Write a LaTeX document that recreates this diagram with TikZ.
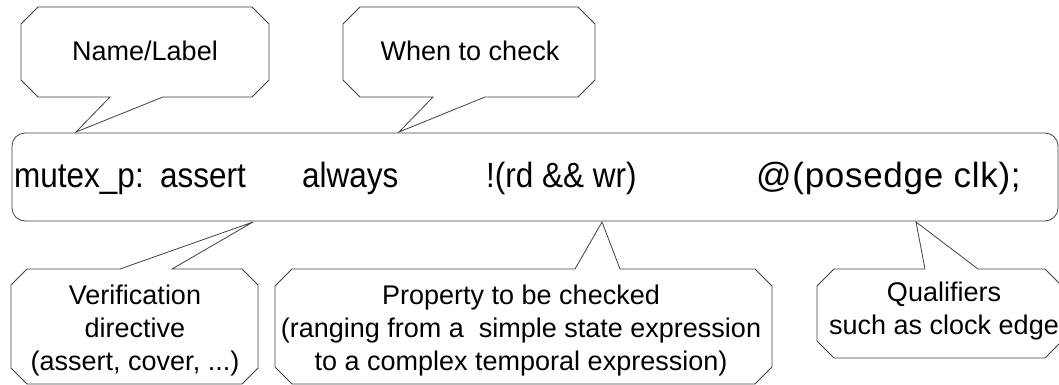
\documentclass[tikz,border=0pt]{standalone}
\usepackage{fontspec}
\setmainfont{Liberation Sans}
\newfontfamily\codefont[FakeStretch=0.9]{Liberation Sans}
\newfontfamily\widecodefont[LetterSpace=2]{Liberation Sans}
\usetikzlibrary{positioning}

\begin{document}
\begin{tikzpicture}[
    x=1pt,
    y=-1pt,
    callout/.style={
        draw=black!75,
        line width=0.8pt,
        line join=miter
    },
    calltext/.style={
        font=\fontsize{27}{33}\selectfont,
        align=center,
        inner sep=0pt
    },
    codetext/.style={
        font=\codefont\fontsize{35}{35}\selectfont,
        anchor=base west,
        inner sep=0pt
    }
]

% Frame
\useasboundingbox (0,0) rectangle (1059,385);

% Statement box
\draw[callout, rounded corners=13] (12,133) rectangle (1058,221);

% Statement text
\node[codetext] (label) at (14,187) {mutex\_p:};
\node[codetext] (directive) at (160,187) {assert};
\node[codetext] (when) at (302,187) {always};
\node[codetext] (prop) at (486,187) {!(rd \&\& wr)};
\node[codetext, font=\widecodefont\fontsize{35}{35}\selectfont] (clock) at (756,187) {@(posedge clk);};

% Upper callouts
\draw[callout] (38,7) -- (252,7) -- (269,24) -- (269,80) -- (252,97) -- (163,97)
    -- (76,132) -- (110,97) -- (38,97) -- (21,80) -- (21,24) -- cycle;
\node[calltext] (namelbl) at (145,51) {Name/Label};

\draw[callout] (360,7) -- (578,7) -- (595,24) -- (595,80) -- (578,97) -- (485,97)
    -- (399,132) -- (433,97) -- (360,97) -- (343,80) -- (343,24) -- cycle;
\node[calltext] (whenlbl) at (470,51) {When to check};

% Lower callouts
\draw[callout] (27,269) -- (120,269) -- (253,222) -- (172,269) -- (242,269) -- (258,285)
    -- (258,368) -- (242,384) -- (27,384) -- (11,368) -- (11,285) -- cycle;
\node[calltext] (dirlbl) at (135,331) {Verification\\directive\\(assert, cover, ...)};

\draw[callout] (292,269) -- (575,269) -- (602,222) -- (620,269) -- (755,269) -- (772,286)
    -- (772,367) -- (755,384) -- (292,384) -- (275,367) -- (275,286) -- cycle;
\node[calltext] (proplbl) at (521,331) {Property to be checked\\(ranging from a\ \ simple state expression\\to a complex temporal expression)};

\draw[callout] (834,269) -- (925,269) -- (916,222) -- (978,269) -- (1045,269) -- (1062,286)
    -- (1062,341) -- (1045,358) -- (834,358) -- (817,341) -- (817,286) -- cycle;
\node[calltext] (quallbl) at (944,311) {Qualifiers\\such as clock edge};

\end{tikzpicture}
\end{document}
